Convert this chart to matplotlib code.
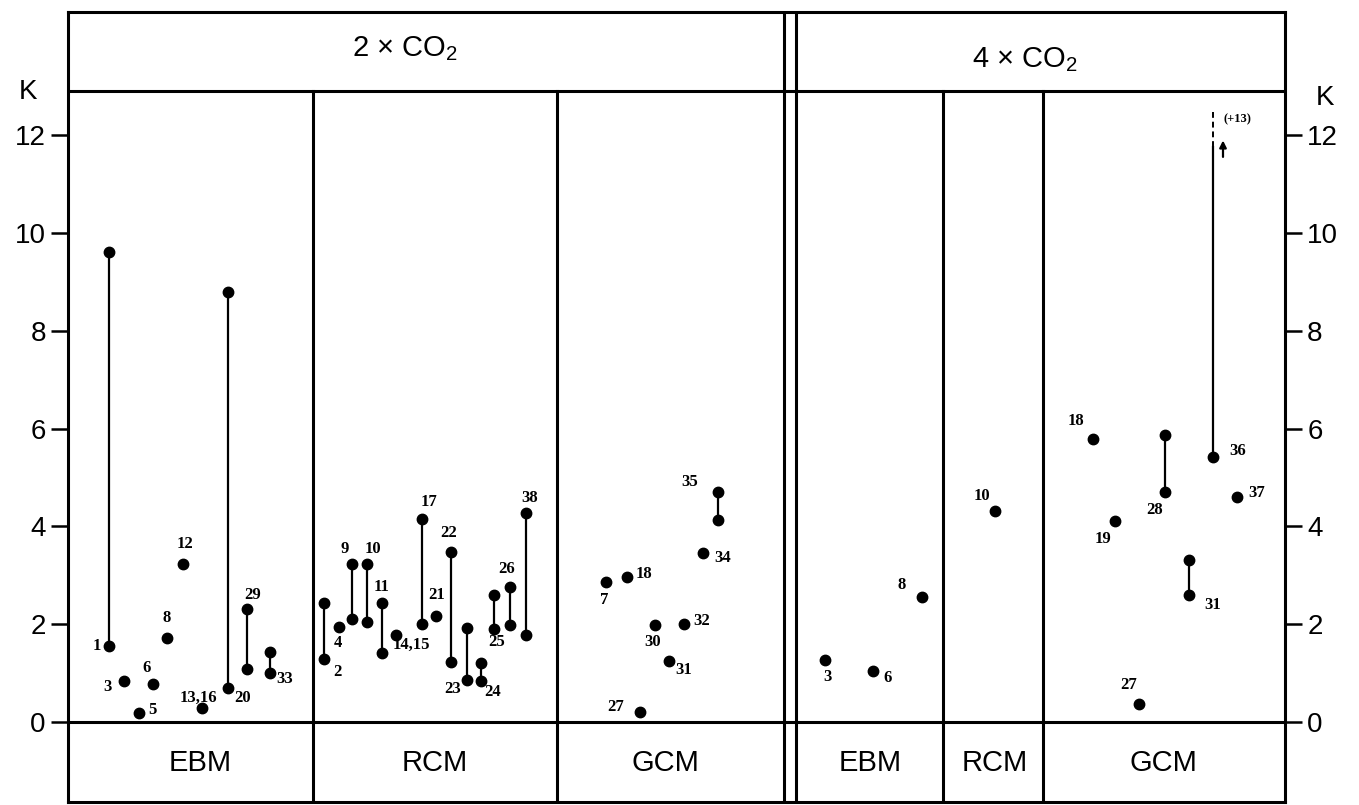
import numpy as np
import matplotlib
matplotlib.use('Agg')
import matplotlib.pyplot as plt

plt.rcParams['font.family'] = ['Liberation Sans', 'DejaVu Sans']
plt.rcParams['mathtext.fontset'] = 'custom'
plt.rcParams['mathtext.rm'] = 'Liberation Sans'

nan = np.nan

# 2 x CO2 -- EBM
ebm2_labels = ['1', '3', '5', '6', '8', '12', '13,16', '20', '29', '33']
ebm2_x = [4.1, 5.6, 7.1, 8.5, 9.9, 11.5, 13.4, 16.0, 17.9, 20.2]
ebm2_lo = [1.55, 0.84, 0.18, 0.78, 1.72, 3.23, 0.29, 0.70, 1.08, 1.00]
ebm2_hi = [9.62, nan, nan, nan, nan, nan, nan, 8.80, 2.31, 1.43]

# 2 x CO2 -- RCM
rcm2_labels = ['2', '4', '9', '10', '11', '14,15', '17', '21', '22', '23', '24', '25', '26', '38']
rcm2_x = [25.6, 27.1, 28.4, 29.9, 31.4, 32.8, 35.4, 36.8, 38.3, 39.9, 41.3, 42.6, 44.2, 45.8]
rcm2_lo = [1.29, 1.95, 2.10, 2.05, 1.41, 1.78, 2.00, 2.16, 1.23, 0.85, 0.84, 1.90, 1.98, 1.77]
rcm2_hi = [2.43, nan, 3.23, 3.23, 2.44, nan, 4.15, nan, 3.48, 1.92, 1.20, 2.60, 2.76, 4.27]

# 2 x CO2 -- GCM
gcm2_labels = ['7', '18', '27', '30', '31', '32', '34', '35']
gcm2_x = [53.8, 55.9, 57.2, 58.7, 60.1, 61.6, 63.5, 65.0]
gcm2_lo = [2.86, 2.97, 0.21, 1.98, 1.25, 2.00, 3.45, 4.13]
gcm2_hi = [nan, nan, nan, nan, nan, nan, nan, 4.70]

# 4 x CO2 -- EBM / RCM / GCM
ebm4_labels = ['3', '6', '8']
ebm4_x = [75.7, 80.5, 85.4]
ebm4_lo = [1.27, 1.05, 2.56]
ebm4_hi = [nan, nan, nan]

rcm4_labels = ['10']
rcm4_x = [92.7]
rcm4_lo = [4.31]
rcm4_hi = [nan]

gcm4_labels = ['18', '19', '27', '28', '31', '36', '37']
gcm4_x = [102.5, 104.7, 107.1, 109.7, 112.1, 114.5, 116.9]
gcm4_lo = [5.79, 4.12, 0.37, 4.70, 2.60, 5.42, 4.60]
gcm4_hi = [nan, nan, nan, 5.87, 3.31, nan, nan]
m36_solid_top = 11.75   # model 36 goes on to +13 K, drawn off scale
m36_dash_top = 12.5

panel_names = ['EBM', 'RCM', 'GCM', 'EBM', 'RCM', 'GCM']
panel_label_x = [13.2, 36.7, 59.7, 80.2, 92.7, 109.5]
dividers = [24.5, 48.9, 87.5, 97.5]
double_line = [71.6, 72.8]

# label placement: (anchor end, dx px, dy px downwards)
label_pos = {
    'ebm2': {'1': ('lo', -12, 0), '3': ('lo', -17, 6), '5': ('lo', 13, -3), '6': ('lo', -6, -16),
             '8': ('lo', 0, -20), '12': ('lo', 2, -20), '13,16': ('lo', -4, -10),
             '20': ('lo', 15, 10), '29': ('hi', 6, -14), '33': ('lo', 15, 6)},
    'rcm2': {'2': ('lo', 13, 13), '4': ('lo', -1, 16), '9': ('hi', -7, -15), '10': ('hi', 6, -15),
             '11': ('hi', 0, -16), '14,15': ('lo', 15, 10), '17': ('hi', 7, -17),
             '21': ('lo', 1, -21), '22': ('hi', -2, -19), '23': ('lo', -14, 9),
             '24': ('lo', 12, 11), '25': ('lo', 3, 13), '26': ('hi', -3, -18), '38': ('hi', 4, -15)},
    'gcm2': {'7': ('lo', -2, 18), '18': ('lo', 17, -3), '27': ('lo', -24, -5), '30': ('lo', -2, 17),
             '31': ('lo', 15, 9), '32': ('lo', 18, -3), '34': ('lo', 20, 5), '35': ('hi', -28, -10)},
    'ebm4': {'3': ('lo', 2, 17), '6': ('lo', 15, 7), '8': ('lo', -20, -12)},
    'rcm4': {'10': ('lo', -13, -15)},
    'gcm4': {'18': ('lo', -17, -18), '19': ('lo', -12, 18), '27': ('lo', -10, -19),
             '28': ('lo', -10, 18), '31': ('lo', 24, 10), '36': ('lo', 25, -6), '37': ('lo', 20, -4)},
}

panels = {
    'ebm2': (ebm2_labels, ebm2_x, ebm2_lo, ebm2_hi),
    'rcm2': (rcm2_labels, rcm2_x, rcm2_lo, rcm2_hi),
    'gcm2': (gcm2_labels, gcm2_x, gcm2_lo, gcm2_hi),
    'ebm4': (ebm4_labels, ebm4_x, ebm4_lo, ebm4_hi),
    'rcm4': (rcm4_labels, rcm4_x, rcm4_lo, rcm4_hi),
    'gcm4': (gcm4_labels, gcm4_x, gcm4_lo, gcm4_hi),
}

fig = plt.figure(figsize=(13.59, 8.05), dpi=100)
ax = fig.add_axes([68 / 1359, 3 / 805, 1217 / 1359, 790 / 805])
ax.set_xlim(0, 121.7)
ax.set_ylim(-1.636, 14.52)
header_y = 12.9

lw = 2.2
for s in ax.spines.values():
    s.set_linewidth(lw)

ax.axhline(0, color='black', lw=lw)
ax.axhline(header_y, color='black', lw=lw)
for d in dividers:
    ax.plot([d, d], [-1.636, header_y], color='black', lw=lw)
for d in double_line:
    ax.axvline(d, color='black', lw=lw)

numfont = dict(family=['Liberation Serif', 'DejaVu Serif'], fontsize=12, fontweight='bold')

for key, (labels, xs, lo, hi) in panels.items():
    xs = np.array(xs)
    lo = np.array(lo)
    hi = np.array(hi)
    for x, a, b in zip(xs, lo, hi):
        if not np.isnan(b):
            ax.plot([x, x], [a, b], color='black', lw=1.6, zorder=2)
    ax.plot(xs, lo, 'o', color='black', ms=7.5, zorder=3)
    has_hi = ~np.isnan(hi)
    ax.plot(xs[has_hi], hi[has_hi], 'o', color='black', ms=7.5, zorder=3)
    for lab, x, a, b in zip(labels, xs, lo, hi):
        end, dx, dy = label_pos[key][lab]
        yv = b if end == 'hi' else a
        ax.annotate(lab, (x, yv), xytext=(dx, -dy), textcoords='offset pixels',
                    ha='center', va='center', **numfont)

# model 36 in 4 x CO2 GCM runs off scale (+13 K)
i36 = gcm4_labels.index('36')
x36 = gcm4_x[i36]
ax.plot([x36, x36], [gcm4_lo[i36], m36_solid_top], color='black', lw=1.6)
ax.plot([x36, x36], [m36_solid_top, m36_dash_top], color='black', lw=1.4, ls=(0, (3, 2)))
ax.annotate('', xy=(x36 + 1.0, 11.95), xytext=(x36 + 1.0, 11.5),
            arrowprops=dict(arrowstyle='-|>', color='black', lw=1.6, mutation_scale=10))
ax.text(x36 + 1.1, 12.33, '(+13)', fontsize=9, va='center', ha='left',
        family=['Liberation Serif', 'DejaVu Serif'], fontweight='bold')

# bottom row labels
for name, x in zip(panel_names, panel_label_x):
    ax.text(x, -0.84, name, fontsize=21, ha='center', va='center')

# header
ax.text(33.7, 13.78, r'2 × CO$_2$', fontsize=21, ha='center', va='center')
ax.text(95.7, 13.55, r'4 × CO$_2$', fontsize=21, ha='center', va='center')

# y axis on both sides
ax.set_yticks(np.arange(0, 13, 2))
ax.set_xticks([])
ax.tick_params(axis='y', left=True, right=True, labelleft=True, labelright=True,
               direction='out', length=12, width=1.8, labelsize=20, pad=4)
ax.text(-4.0, 12.88, 'K', fontsize=20, ha='center', va='center', clip_on=False)
ax.text(125.7, 12.76, 'K', fontsize=20, ha='center', va='center', clip_on=False)

fig.savefig('out.png', dpi=100)
